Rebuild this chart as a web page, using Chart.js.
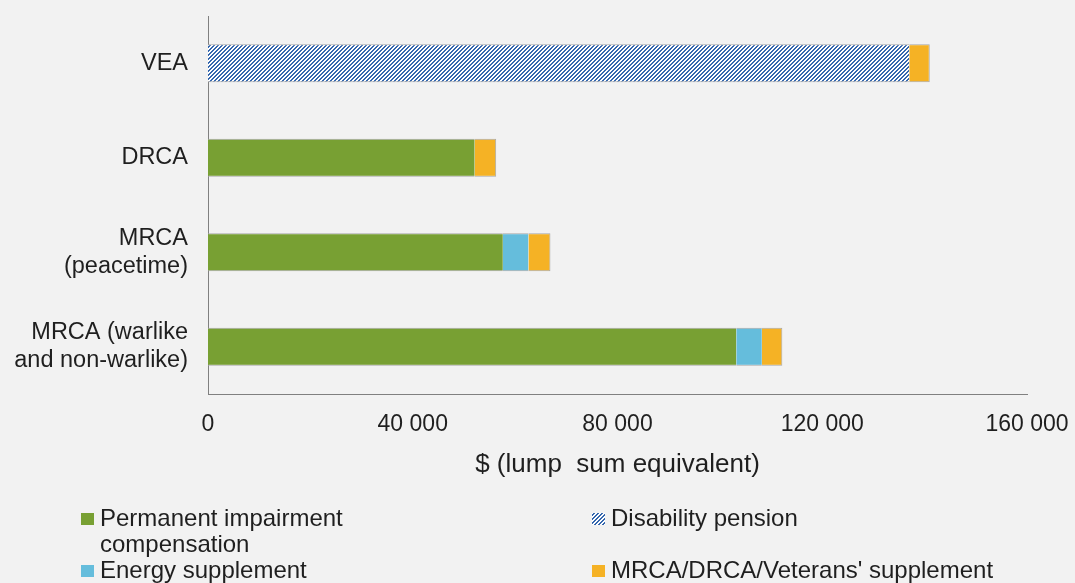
<!DOCTYPE html>
<html>
<head>
<meta charset="utf-8">
<script src="https://cdn.jsdelivr.net/npm/chart.js@4"></script>
<style>
  html, body { margin: 0; padding: 0; background: #f2f2f2; }
  #wrap { position: relative; width: 1075px; height: 583px; }
</style>
</head>
<body>
<div id="wrap"><canvas id="my-chart" width="1075" height="583"></canvas></div>
<script>
// categories (top to bottom)
const categories = [
  'VEA',
  'DRCA',
  ['MRCA', '(peacetime)'],
  ['MRCA (warlike', 'and non-warlike)']
];

// series, $ lump sum equivalent
const permanentImpairment = [0, 52100, 57600, 103200];
const disabilityPension = [137000, 0, 0, 0];
const energySupplement = [0, 0, 5000, 5000];
const veteransSupplement = [4000, 4200, 4300, 4000];

const xTicks = [0, 40000, 80000, 120000, 160000];

const seriesNames = [
  ['Permanent impairment', 'compensation'],
  ['Disability pension'],
  ['Energy supplement'],
  ["MRCA/DRCA/Veterans' supplement"]
];

const FONT = '"Liberation Sans", Arial, sans-serif';
const TEXT = '#1f1f1f';

// blue diagonal hatch for disability pension
function makeHatch() {
  const c = document.createElement('canvas');
  c.width = 4; c.height = 4;
  const g = c.getContext('2d');
  g.fillStyle = '#ffffff';
  g.fillRect(0, 0, 4, 4);
  g.fillStyle = '#3567ae';
  for (let x = 0; x < 4; x++) {
    for (let y = 0; y < 4; y++) {
      const k = (x + y) % 4;
      if (k === 2 || k === 3) g.fillRect(x, y, 1, 1);
    }
  }
  return g.createPattern(c, 'repeat');
}
const hatch = makeHatch();

function fmt(v) {
  return String(v).replace(/\B(?=(\d{3})+(?!\d))/g, ' ');
}

const edge = { top: 1, bottom: 1, left: 0, right: 0 };
const edgeEnd = { top: 1, bottom: 1, left: 0, right: 1 };

const data = {
  labels: categories,
  datasets: [
    { label: seriesNames[0], data: permanentImpairment, backgroundColor: '#78a033', borderColor: '#a8a8a8', borderWidth: edge },
    { label: seriesNames[1], data: disabilityPension, backgroundColor: hatch, borderColor: '#a8a8a8', borderWidth: edge },
    { label: seriesNames[2], data: energySupplement, backgroundColor: '#65bddc', borderColor: '#a8a8a8', borderWidth: edge },
    { label: seriesNames[3], data: veteransSupplement, backgroundColor: '#f5b225', borderColor: '#a8a8a8', borderWidth: edgeEnd }
  ]
};

// two-column legend under the axis title
const legendBelow = {
  id: 'legendBelow',
  afterDraw(chart) {
    const ctx = chart.ctx;
    const spots = [
      { x: 81, y: 519 },
      { x: 592, y: 519 },
      { x: 81, y: 571 },
      { x: 592, y: 571 }
    ];
    ctx.save();
    ctx.font = '24px ' + FONT;
    ctx.textBaseline = 'middle';
    chart.data.datasets.forEach((ds, i) => {
      const s = spots[i];
      ctx.fillStyle = ds.backgroundColor;
      ctx.fillRect(s.x, s.y - 6, 13, 12);
      ctx.fillStyle = TEXT;
      ds.label.forEach((line, j) => {
        ctx.fillText(line, s.x + 19, s.y + j * 26);
      });
    });
    ctx.restore();
  }
};

const config = {
  type: 'bar',
  data: data,
  options: {
    indexAxis: 'y',
    responsive: false,
    animation: false,
    layout: { padding: { left: 0, right: 48, top: 16, bottom: 99 } },
    datasets: { bar: { barPercentage: 0.4, categoryPercentage: 1, borderSkipped: false } },
    plugins: {
      legend: { display: false },
      tooltip: { enabled: false }
    },
    scales: {
      x: {
        stacked: true,
        min: 0,
        max: 160000,
        afterBuildTicks(scale) { scale.ticks = xTicks.map(v => ({ value: v })); },
        afterFit(scale) {
          scale.height = 90;
          scale.paddingLeft = 0;
          scale.paddingRight = 0;
        },
        grid: { display: false, drawTicks: false },
        border: { display: true, color: '#808080', width: 1 },
        ticks: {
          color: TEXT,
          font: { family: FONT, size: 23 },
          padding: 17,
          maxRotation: 0,
          callback: v => fmt(v)
        },
        title: {
          display: true,
          text: '$ (lump  sum equivalent)',
          color: TEXT,
          font: { family: FONT, size: 26 },
          padding: { top: 0, bottom: 4 }
        }
      },
      y: {
        stacked: true,
        afterFit(scale) {
          scale.width = 208;
          scale.paddingTop = 0;
          scale.paddingBottom = 0;
        },
        grid: { display: false, drawTicks: false },
        border: { display: true, color: '#808080', width: 1 },
        ticks: {
          color: TEXT,
          font: { family: FONT, size: 23.5, lineHeight: 1.2 },
          padding: 20
        }
      }
    }
  },
  plugins: [legendBelow]
};

const myChart = new Chart(document.getElementById('my-chart'), config);
</script>
</body>
</html>
